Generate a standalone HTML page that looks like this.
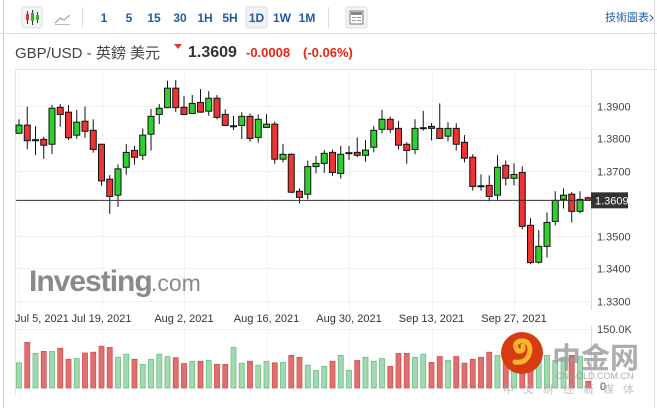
<!DOCTYPE html>
<html><head><meta charset="utf-8"><style>
body{margin:0;width:657px;height:408px;overflow:hidden;background:#fff;font-family:"Liberation Sans","Noto Sans CJK TC",sans-serif}
svg{display:block}
</style></head><body>
<svg id="c" width="657" height="408" xmlns="http://www.w3.org/2000/svg" font-family="Liberation Sans, Noto Sans CJK TC, sans-serif">
<rect x="0" y="0" width="657" height="408" fill="#fff"/>
<line x1="3.5" y1="0" x2="3.5" y2="408" stroke="#ccc"/>
<line x1="654.5" y1="0" x2="654.5" y2="408" stroke="#ddd"/>
<line x1="0" y1="33.5" x2="657" y2="33.5" stroke="#ddd"/>
<g>
<rect x="22" y="7" width="20" height="21" rx="2" fill="#f4f4f4" stroke="#ddd"/>
<g stroke="#333"><line x1="27.5" y1="11" x2="27.5" y2="24"/><line x1="32.5" y1="10" x2="32.5" y2="25"/><line x1="37.5" y1="12" x2="37.5" y2="23"/></g>
<rect x="26" y="14" width="3" height="6" fill="#d33"/><rect x="31" y="13" width="3" height="8" fill="#2b2"/><rect x="36" y="15" width="3" height="5" fill="#2b2"/>
<path d="M55 23 L60 18 L64 20 L70 15" stroke="#7aa0c8" fill="none"/>
<line x1="55" y1="24.5" x2="70" y2="24.5" stroke="#bbb"/>
<line x1="82.5" y1="7" x2="82.5" y2="28" stroke="#ddd"/>
<g font-size="12" font-weight="bold" fill="#1f5ba6" text-anchor="middle">
<text x="104" y="22">1</text>
<text x="129" y="22">5</text>
<text x="154" y="22">15</text>
<text x="180" y="22">30</text>
<text x="205" y="22">1H</text>
<text x="230" y="22">5H</text>
<rect x="246" y="7" width="21" height="21" rx="2" fill="#f2f2f2" stroke="#ddd"/>
<text x="256.5" y="22">1D</text>
<text x="282" y="22">1W</text>
<text x="307" y="22">1M</text>
</g>
<line x1="328.5" y1="7" x2="328.5" y2="28" stroke="#ddd"/>
<rect x="346" y="7" width="21" height="21" rx="2" fill="#f4f4f4" stroke="#ddd"/>
<rect x="350" y="11" width="13" height="13" fill="#fff" stroke="#777"/><rect x="351" y="12" width="11" height="3" fill="#888"/>
<g stroke="#999"><line x1="352" y1="17.5" x2="356" y2="17.5"/><line x1="352" y1="20.5" x2="356" y2="20.5"/><line x1="357" y1="17.5" x2="361" y2="17.5"/><line x1="357" y1="20.5" x2="361" y2="20.5"/></g>
<text x="605" y="21" font-size="11" fill="#1f5ba6">技術圖表</text>
<path d="M650 15 L653 18 L650 21" stroke="#1f5ba6" fill="none"/>
</g>
<g>
<text x="15" y="58" font-size="15" fill="#444">GBP/USD - 英鎊 美元</text>
<path d="M174 44 L182 44 L178 49 Z" fill="#e33"/>
<text x="188" y="57" font-size="16" font-weight="bold" fill="#333">1.3609</text>
<text x="246" y="57" font-size="13" font-weight="bold" fill="#e21">-0.0008</text>
<text x="303" y="57" font-size="13" font-weight="bold" fill="#e21">(-0.06%)</text>
</g>
<line x1="14" y1="69.5" x2="657" y2="69.5" stroke="#e4e4e4"/>
<line x1="15.5" y1="70" x2="15.5" y2="395" stroke="#e4e4e4"/>
<line x1="591.5" y1="70" x2="591.5" y2="310" stroke="#ddd"/>
<line x1="591.5" y1="325" x2="591.5" y2="395" stroke="#ddd"/>
<g id="grid"></g>
<g>
<text x="29" y="291" font-size="30" font-weight="bold" fill="#8a8a8a" letter-spacing="-1">Investing</text>
<text x="151" y="291" font-size="23" fill="#8a8a8a">.com</text>
</g>
<g id="candles"></g>
<g id="vols"></g>
<g id="axes"></g>
<g>
<circle cx="522" cy="353" r="21" fill="#d83a12"/>
<path d="M515 362 Q528 364 530 350 Q530 340 520 341 Q512 344 518 351 Q524 352 523 346" stroke="#f7b52a" stroke-width="5" fill="none" stroke-linecap="round"/>
<text x="552" y="368" font-size="29" font-weight="bold" fill="#999" opacity="0.8">中金网</text>
<text x="556" y="379" font-size="9" fill="#999" opacity="0.8">CNGOLD.COM.CN</text>
<text x="503" y="393" font-size="11" fill="#aaa" opacity="0.7" letter-spacing="9">中文财经新媒体</text>
</g>
</svg>
<script>
const dates=["Jul 5, 2021","Jul 19, 2021","Aug 2, 2021","Aug 16, 2021","Aug 30, 2021","Sep 13, 2021","Sep 27, 2021"];
const dateIdx=[0,10,20,30,40,50,60];
const priceTicks=[1.39,1.38,1.37,1.35,1.34,1.33];
const opens=[1.3816,1.3841,1.3795,1.3797,1.3782,1.3896,1.3881,1.3810,1.3853,1.3825,1.3782,1.3674,1.3625,1.3711,1.3763,1.3748,1.3813,1.3874,1.3895,1.3955,1.3896,1.3877,1.3911,1.3884,1.3924,1.3874,1.3838,1.3840,1.3868,1.3803,1.3834,1.3844,1.3736,1.3751,1.3637,1.3628,1.3713,1.3723,1.3757,1.3692,1.3755,1.3757,1.3748,1.3773,1.3828,1.3859,1.3831,1.3782,1.3766,1.3832,1.3837,1.3831,1.3807,1.3831,1.3788,1.3742,1.3654,1.3655,1.3625,1.3717,1.3677,1.3695,1.3532,1.3418,1.3467,1.3544,1.3612,1.3628,1.3575,1.3617];
const highs=[1.3859,1.3898,1.3838,1.3805,1.3903,1.3906,1.3903,1.3888,1.3898,1.3859,1.3784,1.3687,1.3720,1.3783,1.3777,1.3831,1.3891,1.3906,1.3978,1.3980,1.3931,1.3934,1.3952,1.3946,1.3934,1.3890,1.3869,1.3881,1.3877,1.3874,1.3875,1.3852,1.3783,1.3754,1.3646,1.3731,1.3746,1.3764,1.3766,1.3777,1.3777,1.3803,1.3795,1.3838,1.3888,1.3867,1.3854,1.3788,1.3859,1.3885,1.3847,1.3908,1.3850,1.3847,1.3810,1.3751,1.3689,1.3686,1.3748,1.3732,1.3723,1.3714,1.3554,1.3517,1.3572,1.3637,1.3646,1.3634,1.3637,1.3620];
const lows=[1.3814,1.3767,1.3749,1.3737,1.3752,1.3836,1.3795,1.3799,1.3802,1.3756,1.3654,1.3567,1.3589,1.3688,1.3719,1.3733,1.3762,1.3844,1.3893,1.3882,1.3872,1.3875,1.3879,1.3870,1.3859,1.3838,1.3826,1.3799,1.3790,1.3787,1.3832,1.3722,1.3726,1.3631,1.3600,1.3612,1.3692,1.3694,1.3685,1.3676,1.3733,1.3742,1.3728,1.3757,1.3816,1.3816,1.3766,1.3722,1.3751,1.3824,1.3794,1.3799,1.3791,1.3763,1.3726,1.3639,1.3639,1.3606,1.3611,1.3655,1.3655,1.3520,1.3412,1.3414,1.3433,1.3532,1.3584,1.3541,1.3569,1.3609];
const closes=[1.3841,1.3793,1.3796,1.3779,1.3893,1.3874,1.3802,1.3850,1.3822,1.3766,1.3669,1.3621,1.3706,1.3757,1.3742,1.3810,1.3868,1.3893,1.3955,1.3895,1.3874,1.3908,1.3881,1.3924,1.3865,1.3840,1.3839,1.3868,1.3800,1.3859,1.3844,1.3736,1.3751,1.3634,1.3618,1.3713,1.3723,1.3754,1.3695,1.3751,1.3756,1.3748,1.3764,1.3825,1.3859,1.3828,1.3779,1.3763,1.3831,1.3833,1.3831,1.3800,1.3831,1.3782,1.3739,1.3652,1.3653,1.3621,1.3711,1.3677,1.3689,1.3529,1.3417,1.3467,1.3541,1.3609,1.3625,1.3575,1.3612,1.3609];
const volumes=[64,116,88,93,93,101,73,75,89,91,106,103,78,86,73,60,73,86,80,77,62,68,68,70,60,60,103,63,68,58,68,64,65,83,78,58,45,55,68,83,45,70,78,68,75,55,88,88,78,86,65,80,70,80,63,73,78,91,83,88,79,91,70,79,83,70,78,83,80,17];
const lastPrice=1.3609;
const volMax=150;
const NS="http://www.w3.org/2000/svg";
const xOf=i=>19+i*8.25;
const yOf=p=>106+(1.39-p)*3242;
const vY=v=>388-v/volMax*59;
function mk(tag,attrs,parent){const e=document.createElementNS(NS,tag);for(const k in attrs)e.setAttribute(k,attrs[k]);parent.appendChild(e);return e;}
const grid=document.getElementById('grid'),cg=document.getElementById('candles'),vg=document.getElementById('vols'),ax=document.getElementById('axes');
priceTicks.forEach(p=>{const y=Math.round(yOf(p))+0.5;
 const l=mk('line',{x1:16,x2:591,y1:y,y2:y,stroke:'#f2f2f2'},grid);
 
 
 const t=mk('text',{x:597,y:y+4,'font-size':11,fill:'#444'},ax);t.textContent=p.toFixed(4);
 
 
});
mk('line',{x1:16,x2:591,y1:301.5,y2:301.5,stroke:'#f2f2f2'},grid);
mk('line',{x1:16,x2:591,y1:329.5,y2:329.5,stroke:'#f2f2f2'},grid);
dateIdx.forEach((di,k)=>{const x=Math.round(xOf(di))+0.5;
 const l=mk('line',{x1:x,x2:x,y1:70,y2:310,stroke:'#f2f2f2'},grid);
 
 
 mk('line',{x1:x,x2:x,y1:329,y2:395,stroke:'#f2f2f2'},grid);
 const t=mk('text',{x:k==0?15:xOf(di),y:322,'font-size':11,fill:'#333','text-anchor':k==0?'start':'middle'},ax);t.textContent=dates[k];
 
 
});
opens.forEach((o,i)=>{const c=closes[i],x=xOf(i);const up=c>=o;
 const w=mk('line',{x1:x,x2:x,y1:yOf(highs[i]),y2:yOf(lows[i]),stroke:'#111','stroke-width':1},cg);
 
 
 const top=yOf(Math.max(o,c)),h=Math.max(1,yOf(Math.min(o,c))-top);
 const r=mk('rect',{x:x-3,y:top,width:6,height:h,fill:up?'#2ed02e':'#ee3333',stroke:'#111','stroke-width':1},cg);
 
 
 const vy=vY(volumes[i]);
 const b=mk('rect',{x:x-2.5,y:vy,width:5,height:388-vy,fill:up?'#a3d9b1':'#e07070',stroke:up?'#6cbf83':'#d05050','stroke-width':0.8},vg);
 
 
});
const ly=yOf(lastPrice);
const pl=mk('line',{x1:16,x2:591,y1:ly,y2:ly,stroke:'#333','stroke-width':1},ax);


const pb=mk('rect',{x:591,y:ly-8,width:37,height:16,fill:'#333'},ax);


const pt=mk('text',{x:595,y:ly+4,'font-size':11,fill:'#fff'},ax);pt.textContent=lastPrice.toFixed(4);
const v1=mk('text',{x:597,y:333,'font-size':11,fill:'#444'},ax);v1.textContent='150.0K';


const v0=mk('text',{x:600,y:390,'font-size':11,fill:'#444'},ax);v0.textContent='0';


</script>
</body></html>
